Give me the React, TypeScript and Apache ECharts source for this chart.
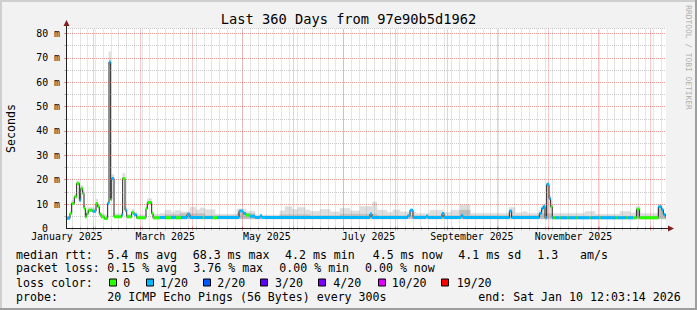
import React, { useEffect, useRef } from 'react';
import * as echarts from 'echarts';

const W = 697;
const H = 310;
const MONO = '"DejaVu Sans Mono", "Liberation Mono", monospace';

// time base: graph covers 360 days ending Sat Jan 10 12:03:14 2026
const END_MS = Date.UTC(2026, 0, 10, 12, 3, 14);
const SPAN_DAYS = 360;
const START_MS = END_MS - SPAN_DAYS * 86400000;
const Y_MAX = 82.05;

const TITLE = 'Last 360 Days from 97e90b5d1962';
const Y_NAME = 'Seconds';
const WATERMARK = 'RRDTOOL / TOBI OETIKER';

const monthGridDates = [
  '2025-02-01', '2025-03-01', '2025-04-01', '2025-05-01', '2025-06-01', '2025-07-01',
  '2025-08-01', '2025-09-01', '2025-10-01', '2025-11-01', '2025-12-01', '2026-01-01',
];
const monthLabelDates = ['2025-01-16', '2025-03-16', '2025-05-16', '2025-07-16', '2025-09-16', '2025-11-16'];
const monthLabels = ['January 2025', 'March 2025', 'May 2025', 'July 2025', 'September 2025', 'November 2025'];
const MINOR_X_STEP = 4.65; // days between minor vertical grid lines
const MINOR_X_FIRST = 3.6;

const yMajorTicks = [10, 20, 30, 40, 50, 60, 70, 80];
const yMinorTicks = [5, 15, 25, 35, 45, 55, 65, 75];
const yLabelTicks = [0, 10, 20, 30, 40, 50, 60, 70, 80];

const lossNames = ['0', '1/20', '2/20', '3/20', '4/20', '10/20', '19/20'];
const lossColors = ['#26ff00', '#00b8ff', '#0059ff', '#5e00ff', '#7e00ff', '#dd00ff', '#ff0000'];

// median rtt steps: [start day, median ms, loss bucket index]
const medianSteps: [number, number, number][] = [
  [0, 4.2, 1], [2.4, 6.2, 0], [3.4, 10.3, 0], [5.0, 13.0, 0], [6.4, 18.5, 0], [8.0, 11.6, 1],
  [8.8, 16.4, 0], [10.0, 14.4, 0], [10.8, 8.2, 0], [11.6, 4.8, 0], [12.4, 6.2, 0], [13.4, 7.5, 0],
  [16.0, 7.1, 1], [18.0, 10.3, 0], [19.0, 8.9, 0], [20.0, 5.9, 0], [21.0, 4.8, 0], [23.0, 4.1, 0],
  [25.0, 10.3, 1], [25.8, 68.3, 1], [26.8, 11.9, 0], [27.4, 20.5, 1], [28.8, 4.8, 0], [33.4, 5.6, 1],
  [34.0, 20.5, 0], [35.4, 7.5, 1], [36.4, 4.8, 0], [39.4, 6.6, 0], [40.8, 5.6, 1], [42.4, 4.4, 0],
  [48.0, 8.2, 0], [48.8, 10.7, 0], [51.4, 6.2, 0], [52.2, 4.4, 0], [56.4, 4.5, 1], [60.0, 4.4, 0],
  [63.0, 4.5, 1], [66.0, 4.4, 0], [69.0, 4.5, 1], [72.6, 5.7, 1], [74.4, 4.5, 1], [82.0, 4.4, 0],
  [83.0, 4.5, 1], [88.0, 4.4, 0], [91.0, 4.5, 1], [103.8, 7.2, 1], [106.2, 6.2, 1], [108.0, 5.5, 0],
  [110.4, 5.0, 1], [113.4, 4.5, 1], [116.4, 5.2, 1], [117.6, 4.5, 1], [182.4, 5.9, 1], [183.6, 4.5, 1],
  [205.0, 5.2, 1], [206.4, 7.5, 1], [208.2, 4.5, 1], [216.0, 5.0, 1], [217.2, 4.5, 1], [225.6, 6.2, 1],
  [226.8, 4.5, 1], [237.0, 5.3, 1], [238.2, 4.5, 1], [266.0, 7.2, 1], [267.4, 4.5, 1], [284.0, 6.2, 1],
  [285.4, 8.2, 1], [286.4, 9.1, 1], [287.4, 4.4, 1], [288.4, 18.0, 1], [289.8, 12.3, 1], [290.8, 8.9, 0],
  [291.8, 4.4, 1], [292.8, 4.4, 0], [293.6, 4.4, 1], [296.0, 4.4, 0], [296.8, 4.4, 1], [300.8, 4.4, 0],
  [301.6, 4.4, 1], [306.2, 4.4, 0], [307.0, 4.4, 1], [314.0, 4.4, 0], [314.8, 4.4, 1], [320.0, 4.4, 0],
  [320.8, 4.4, 1], [330.2, 4.4, 0], [331.0, 4.4, 1], [336.2, 4.4, 0], [337.0, 4.4, 1], [340.2, 4.4, 0],
  [342.4, 7.9, 0], [344.0, 4.4, 0], [355.4, 8.9, 1], [357.4, 7.6, 1], [358.4, 5.7, 1], [359.6, 4.5, 0],
];

// outer smoke (all pings): [start day, low ms, high ms]
const smokeOuter: [number, number, number][] = [
  [0, 3.9, 5.0], [2.4, 5.8, 7.0], [3.4, 9.8, 11.4], [5.0, 12.4, 14.2], [6.4, 17.8, 19.6], [8.0, 11.0, 12.8],
  [8.8, 15.8, 17.6], [10.0, 13.8, 15.6], [10.8, 7.8, 9.6], [11.6, 4.4, 5.6], [12.4, 5.8, 7.4], [13.4, 7.0, 8.6],
  [16.0, 6.7, 8.4], [18.0, 9.8, 12.0], [19.0, 8.4, 10.0], [20.0, 5.5, 6.8], [21.0, 4.4, 6.0], [23.0, 3.8, 5.6],
  [25.0, 9.8, 11.2], [25.8, 67.0, 72.5], [26.8, 11.4, 13.0], [27.4, 20.0, 22.0], [28.8, 4.4, 6.0], [33.4, 5.2, 6.6],
  [34.0, 20.0, 22.6], [35.4, 7.0, 8.6], [36.4, 4.3, 5.8], [39.4, 6.2, 7.8], [40.8, 5.2, 6.6], [42.4, 4.0, 5.6],
  [48.0, 7.8, 9.2], [48.8, 10.2, 12.2], [51.4, 5.8, 7.0], [52.2, 4.0, 5.8], [56.4, 4.0, 6.2], [59.4, 4.0, 7.5],
  [63.0, 4.0, 6.6], [65.4, 4.0, 7.4], [68.4, 4.0, 6.8], [74.4, 4.0, 8.7], [78.0, 4.0, 7.6], [80.4, 4.0, 8.4],
  [83.4, 4.0, 7.7], [89.4, 4.0, 5.8], [102.6, 4.0, 8.0], [108.0, 4.0, 7.0], [113.4, 4.0, 5.5], [128.4, 4.0, 7.2],
  [131.4, 4.0, 8.9], [135.6, 4.0, 7.8], [139.2, 4.0, 8.6], [143.4, 4.0, 7.6], [146.4, 4.0, 7.0], [152.4, 4.0, 7.8],
  [158.4, 4.0, 6.8], [164.4, 4.0, 8.2], [170.4, 4.0, 7.2], [176.4, 4.0, 9.0], [184.0, 4.0, 10.9], [186.6, 4.0, 7.5],
  [192.6, 4.0, 6.6], [196.2, 4.0, 7.6], [200.4, 4.0, 6.8], [210.0, 4.0, 6.2], [218.4, 4.0, 7.5], [226.2, 4.0, 6.6],
  [231.0, 4.0, 7.5], [236.4, 4.0, 9.6], [242.4, 4.0, 6.2], [266.0, 4.0, 8.6], [269.4, 4.0, 6.4], [274.2, 4.0, 6.9],
  [276.6, 4.0, 6.2], [284.0, 4.0, 7.4], [285.4, 4.0, 9.4], [287.4, 4.0, 10.4], [288.4, 4.0, 19.0], [289.8, 4.0, 13.5],
  [290.8, 4.0, 10.0], [291.8, 4.0, 6.2], [311.4, 4.0, 7.0], [317.4, 4.0, 5.8], [332.4, 4.0, 7.0], [338.4, 4.0, 6.4],
  [342.0, 4.0, 9.0], [344.4, 4.0, 6.2], [355.4, 4.0, 9.8], [357.4, 4.0, 8.4], [358.4, 4.0, 6.4], [359.6, 4.0, 5.2],
];

// inner smoke (middle pings): [start day, low ms, high ms]
const smokeInner: [number, number, number][] = [
  [52.2, 4.0, 5.0], [59.4, 4.0, 5.6], [68.4, 4.0, 6.0], [72.6, 4.0, 6.6], [74.4, 4.0, 6.0], [83.4, 4.0, 5.2],
  [102.6, 4.0, 6.0], [113.4, 4.0, 4.9], [128.4, 4.0, 5.6], [146.4, 4.0, 5.2], [164.4, 4.0, 5.8], [186.6, 4.0, 5.2],
  [236.4, 4.0, 7.5], [242.4, 4.0, 5.2], [284.0, 4.0, 6.0], [291.8, 4.0, 5.0], [342.0, 4.0, 7.5], [344.4, 4.0, 5.0],
  [355.4, 4.0, 8.0], [358.4, 4.0, 5.0],
];

const rttStats = ['5.4 ms avg', '68.3 ms max', '4.2 ms min', '4.5 ms now', '4.1 ms sd', '1.3', 'am/s'];
const lossStats = ['0.15 % avg', '3.76 % max', '0.00 % min', '0.00 % now'];
const probeText = '20 ICMP Echo Pings (56 Bytes) every 300s';
const endText = 'end: Sat Jan 10 12:03:14 2026';

const dayOf = (iso: string) => (Date.parse(iso + 'T00:00:00Z') - START_MS) / 86400000;

function toSpans(steps: number[][]) {
  return steps.map((s, i) => [s[0], i + 1 < steps.length ? steps[i + 1][0] : SPAN_DAYS, s[1], s[2]]);
}

const MINOR_COLOR = 'rgba(143,143,143,0.45)';
const MAJOR_COLOR = 'rgba(222,79,79,0.6)';

function tickAxis(kind: 'x' | 'y', position: string, values: number[], color: string) {
  return {
    type: 'value',
    gridIndex: 0,
    position,
    min: 0,
    max: kind === 'x' ? SPAN_DAYS : Y_MAX,
    interval: kind === 'y' ? 10 : undefined,
    silent: true,
    axisLine: { show: false },
    axisLabel: { show: false },
    splitLine: { show: false },
    axisTick: { show: true, length: 2, inside: false, customValues: values, lineStyle: { color, width: 1 } },
  };
}

function buildOption() {
  const gridLeft = 66;
  const gridTop = 28.5;
  const gridW = 600;
  const gridH = 200;
  const axisY = gridTop + gridH;

  const labelDays = monthLabelDates.map(dayOf);
  const majorDays = monthGridDates.map(dayOf);
  const minorDays: number[] = [];
  for (let d = MINOR_X_FIRST; d < SPAN_DAYS; d += MINOR_X_STEP) minorDays.push(d);

  const minorStyle = { color: MINOR_COLOR, width: 1, type: [1, 1] };
  const majorStyle = { color: MAJOR_COLOR, width: 1, type: [1, 1] };

  const gridLines = [
    ...minorDays.map((d) => ({ xAxis: d, lineStyle: minorStyle })),
    ...yMinorTicks.map((v) => ({ yAxis: v, lineStyle: minorStyle })),
    { yAxis: Y_MAX, lineStyle: minorStyle },
    ...majorDays.map((d) => ({ xAxis: d, lineStyle: majorStyle })),
    ...yMajorTicks.map((v) => ({ yAxis: v, lineStyle: majorStyle })),
  ];

  const smokeRender = (fill: string) => (params: any, api: any) => {
    const x0 = api.value(0);
    const x1 = api.value(1);
    const lo = api.value(2);
    const hi = api.value(3);
    const a = api.coord([x0, hi]);
    const b = api.coord([x1, lo]);
    return {
      type: 'rect',
      shape: { x: a[0], y: a[1], width: b[0] - a[0], height: b[1] - a[1] },
      style: { fill, stroke: fill, lineWidth: 0.6 },
    };
  };

  const medianSpans = toSpans(medianSteps);
  const medianLine = [...medianSteps.map((s) => [s[0], s[1]]), [SPAN_DAYS, medianSteps[medianSteps.length - 1][1]]];

  const txt = (text: string, x: number, y: number, extra: any = {}) => ({
    type: 'text',
    x,
    y,
    silent: true,
    style: {
      text,
      fill: '#000',
      font: `11.6px ${MONO}`,
      textAlign: 'left',
      textVerticalAlign: 'middle',
      ...extra,
    },
  });

  const rttX = [107.3, 192.7, 285, 372.7, 458.3, 537.3, 580];
  const lossX = [107.3, 193.3, 279.3, 365];
  const boxX = [109.5, 146.5, 203.5, 260.5, 318.5, 378.5, 441.5];
  const boxLabelX = [123.3, 160, 217.3, 275, 333.3, 391.7, 456.7];

  const graphic: any[] = [
    // frame shading
    { type: 'rect', shape: { x: 0, y: 0, width: W, height: 2 }, style: { fill: '#cfcfcf' }, silent: true },
    { type: 'rect', shape: { x: 0, y: 0, width: 2, height: H }, style: { fill: '#cfcfcf' }, silent: true },
    { type: 'rect', shape: { x: 0, y: H - 2, width: W, height: 2 }, style: { fill: '#9e9e9e' }, silent: true },
    { type: 'rect', shape: { x: W - 2, y: 0, width: 2, height: H }, style: { fill: '#9e9e9e' }, silent: true },
    // title
    txt(TITLE, W / 2, 19.3, { textAlign: 'center', font: `13.7px ${MONO}` }),
    // watermark
    {
      type: 'text', x: 688.5, y: 57.5, rotation: -Math.PI / 2, silent: true,
      style: { text: WATERMARK, fill: '#b0b0b0', font: `7.9px ${MONO}`, textAlign: 'center', textVerticalAlign: 'middle' },
    },
    // axes
    { type: 'line', shape: { x1: gridLeft + 0.5, y1: axisY, x2: gridLeft + 0.5, y2: 24 }, style: { stroke: '#1f1f1f', lineWidth: 1 }, silent: true, z: 20 },
    { type: 'line', shape: { x1: gridLeft, y1: axisY, x2: 670, y2: axisY }, style: { stroke: '#1f1f1f', lineWidth: 1 }, silent: true, z: 20 },
    { type: 'polygon', shape: { points: [[63.5, 26], [69.5, 26], [66.5, 20]] }, style: { fill: '#7f1f1f' }, silent: true, z: 21 },
    { type: 'polygon', shape: { points: [[668, 225.5], [668, 231.5], [674, 228.5]] }, style: { fill: '#7f1f1f' }, silent: true, z: 21 },
    // legend rows
    txt('median rtt:', 16, 255),
    ...rttStats.map((s, i) => txt(s, rttX[i], 255)),
    txt('packet loss:', 16, 268.3),
    ...lossStats.map((s, i) => txt(s, lossX[i], 268.3)),
    txt('loss color:', 16, 282.7),
    ...lossNames.map((n, i) => ({
      type: 'rect', silent: true,
      shape: { x: boxX[i], y: 279, width: 7, height: 7 },
      style: { fill: lossColors[i], stroke: '#000', lineWidth: 1 },
    })),
    ...lossNames.map((n, i) => txt(n, boxLabelX[i], 282.7)),
    txt('probe:', 16, 296.7),
    txt(probeText, 107.3, 296.7),
    txt(endText, 478.3, 296.7),
  ];

  return {
    animation: false,
    backgroundColor: '#f2f2f2',
    grid: {
      left: gridLeft, top: gridTop, width: gridW, height: gridH,
      show: true, backgroundColor: '#ffffff', borderWidth: 0,
      containLabel: false, outerBoundsMode: 'none',
    },
    xAxis: [
      {
        type: 'value', min: 0, max: SPAN_DAYS, position: 'bottom',
        axisLine: { show: false }, axisTick: { show: false }, splitLine: { show: false },
        axisLabel: {
          customValues: labelDays,
          margin: 3,
          color: '#000',
          fontFamily: MONO,
          fontSize: 9.9,
          formatter: (v: number) => {
            const i = labelDays.findIndex((d) => Math.abs(d - v) < 1e-6);
            return i >= 0 ? monthLabels[i] : '';
          },
        },
      },
      tickAxis('x', 'bottom', minorDays, MINOR_COLOR),
      tickAxis('x', 'bottom', majorDays, MAJOR_COLOR),
      tickAxis('x', 'top', minorDays, MINOR_COLOR),
      tickAxis('x', 'top', majorDays, MAJOR_COLOR),
    ],
    yAxis: [
      {
        type: 'value', min: 0, max: Y_MAX, interval: 10, position: 'left',
        axisLine: { show: false }, axisTick: { show: false }, splitLine: { show: false },
        name: Y_NAME, nameLocation: 'middle', nameGap: 49.5, nameRotate: 90,
        nameTextStyle: { fontFamily: MONO, fontSize: 11.6, color: '#000' },
        axisLabel: {
          margin: 6,
          color: '#000',
          fontFamily: MONO,
          fontSize: 9.9,
          formatter: (v: number) => {
            if (!yLabelTicks.includes(v)) return '';
            return v === 0 ? '{z|0}' : `{n|${v} m}`;
          },
          rich: {
            z: { fontFamily: MONO, fontSize: 9.9, color: '#000', padding: [0, 12, 0, 0] },
            n: { fontFamily: MONO, fontSize: 9.9, color: '#000' },
          },
        },
      },
      tickAxis('y', 'left', yMinorTicks, MINOR_COLOR),
      tickAxis('y', 'left', yMajorTicks, MAJOR_COLOR),
      tickAxis('y', 'right', yMinorTicks, MINOR_COLOR),
      tickAxis('y', 'right', yMajorTicks, MAJOR_COLOR),
    ],
    graphic,
    series: [
      {
        name: 'smoke outer', type: 'custom', z: 1, silent: true, clip: true,
        renderItem: smokeRender('#dedede'),
        encode: { x: [0, 1], y: [2, 3] },
        data: toSpans(smokeOuter),
      },
      {
        name: 'smoke inner', type: 'custom', z: 2, silent: true, clip: true,
        renderItem: smokeRender('#bdbdbd'),
        encode: { x: [0, 1], y: [2, 3] },
        data: toSpans(smokeInner),
      },
      {
        name: 'grid', type: 'line', z: 3, silent: true, showSymbol: false,
        data: [[0, 0], [SPAN_DAYS, 0]],
        lineStyle: { opacity: 0 },
        markLine: { silent: true, symbol: ['none', 'none'], label: { show: false }, animation: false, data: gridLines },
      },
      {
        name: 'median', type: 'line', z: 4, silent: true, step: 'end', showSymbol: false,
        data: medianLine,
        lineStyle: { color: '#202020', width: 1 },
      },
      {
        name: 'loss', type: 'custom', z: 5, silent: true, clip: true,
        encode: { x: [0, 1], y: 2 },
        data: medianSpans,
        renderItem: (params: any, api: any) => {
          const a = api.coord([api.value(0), api.value(2)]);
          const b = api.coord([api.value(1), api.value(2)]);
          return {
            type: 'line',
            shape: { x1: a[0], y1: a[1], x2: b[0], y2: b[1] },
            style: { stroke: lossColors[api.value(3)], lineWidth: 3 },
          };
        },
      },
    ],
  };
}

export default function App() {
  const ref = useRef<HTMLDivElement>(null);
  useEffect(() => {
    const el = ref.current;
    if (!el) return;
    const chart = echarts.init(el, null, { renderer: 'svg', width: W, height: H });
    chart.setOption(buildOption() as any);
    return () => chart.dispose();
  }, []);
  return <div ref={ref} style={{ position: 'absolute', left: 0, top: 0, width: W, height: H }} />;
}
